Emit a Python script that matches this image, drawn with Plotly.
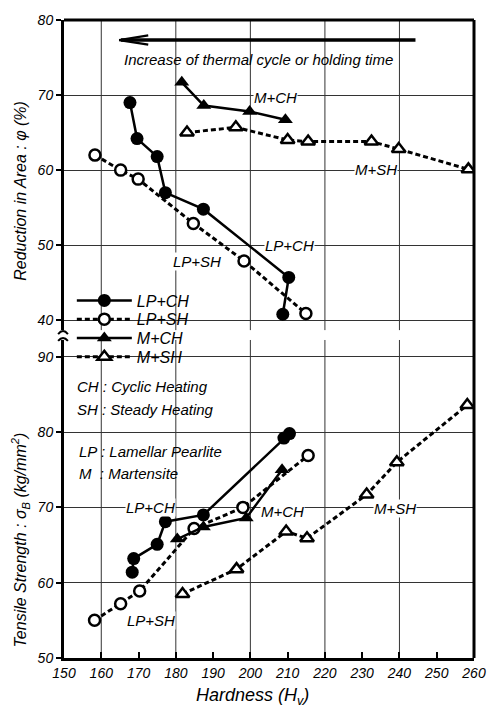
import plotly.graph_objects as go
from plotly.subplots import make_subplots

# ---------------- data ----------------
# Reduction in area (upper panel)
lpch_hv_ra = [167.7, 169.6, 175.0, 177.2, 187.4, 210.3, 208.7]
lpch_ra = [69.0, 64.2, 61.8, 57.0, 54.8, 45.7, 40.8]
lpsh_hv_ra = [158.3, 165.2, 169.9, 184.7, 198.3, 214.9]
lpsh_ra = [62.0, 60.0, 58.8, 52.9, 47.9, 40.9]
mch_hv_ra = [181.6, 187.5, 199.8, 209.4]
mch_ra = [71.7, 68.6, 67.8, 66.7]
msh_hv_ra = [183.0, 196.1, 210.0, 215.5, 232.5, 239.8, 258.5]
msh_ra = [65.0, 65.7, 64.0, 63.8, 63.8, 62.8, 60.1]

# Tensile strength (lower panel)
lpch_hv_ts = [168.3, 168.7, 175.0, 177.2, 187.4, 209.0, 210.5]
lpch_ts = [61.4, 63.2, 65.1, 68.1, 69.0, 79.2, 79.8]
lpsh_hv_ts = [158.2, 165.2, 170.3, 184.9, 198.0, 215.5]
lpsh_ts = [55.0, 57.2, 58.9, 67.2, 70.0, 76.9]
mch_hv_ts = [180.4, 187.4, 198.9, 208.5]
mch_ts = [65.8, 67.4, 68.6, 75.0]
msh_hv_ts = [181.8, 196.3, 209.6, 215.2, 231.2, 239.3, 258.2]
msh_ts = [58.5, 61.8, 66.8, 65.9, 71.7, 76.0, 83.6]

series_names = ["LP+CH", "LP+SH", "M+CH", "M+SH"]
x_ticks = [150, 160, 170, 180, 190, 200, 210, 220, 230, 240, 250, 260]
grid_x = [160, 180, 200, 220, 240]
ra_ticks = [40, 50, 60, 70, 80]
ts_ticks = [50, 60, 70, 80, 90]

# ---------------- layout geometry ----------------
W, H = 498, 713
ML, MR, MT, MB = 64, 15, 12, 55
PW = W - ML - MR
PH = H - MT - MB


def fx(px):
    return (px - ML) / PW


def fy(py):
    return (H - MB - py) / PH


FONT = "Liberation Sans, Arial, sans-serif"
BLACK = "black"

fig = make_subplots(rows=2, cols=1, shared_xaxes=True)

styles = {
    "LP+CH": dict(marker=dict(symbol="circle", size=13, color=BLACK),
                  line=dict(color=BLACK, width=2.5)),
    "LP+SH": dict(marker=dict(symbol="circle", size=11, color="white",
                              line=dict(color=BLACK, width=2.5)),
                  line=dict(color=BLACK, width=3, dash="5px,3px")),
    "M+CH": dict(marker=dict(symbol="triangle-up", size=13, color=BLACK),
                 line=dict(color=BLACK, width=2.5)),
    "M+SH": dict(marker=dict(symbol="triangle-up", size=12, color="white",
                             line=dict(color=BLACK, width=2.5)),
                 line=dict(color=BLACK, width=3, dash="5px,3px")),
}

top_data = [(lpch_hv_ra, lpch_ra), (lpsh_hv_ra, lpsh_ra),
            (mch_hv_ra, mch_ra), (msh_hv_ra, msh_ra)]
bot_data = [(lpch_hv_ts, lpch_ts), (lpsh_hv_ts, lpsh_ts),
            (mch_hv_ts, mch_ts), (msh_hv_ts, msh_ts)]
legend_ids = ["legend", "legend2", "legend3", "legend4"]

for i, name in enumerate(series_names):
    st = styles[name]
    xs, ys = top_data[i]
    fig.add_trace(go.Scatter(x=xs, y=ys, mode="lines+markers", name=name,
                             marker=st["marker"], line=st["line"],
                             showlegend=True, legend=legend_ids[i]),
                  row=1, col=1)
    xs, ys = bot_data[i]
    fig.add_trace(go.Scatter(x=xs, y=ys, mode="lines+markers", name=name,
                             marker=st["marker"], line=st["line"],
                             showlegend=False),
                  row=2, col=1)

top_bottom_px = 326
bot_top_px = 336
top_lo = 80 - (top_bottom_px - MT) / 7.6
bot_hi = 50 + ((H - MB) - bot_top_px) / 7.625

tickfont = dict(family=FONT, size=14, color=BLACK, style="italic")
GRID = "#333333"

fig.update_layout(
    width=W, height=H,
    margin=dict(l=ML, r=MR, t=MT, b=MB, pad=0),
    paper_bgcolor="white", plot_bgcolor="white",
    font=dict(family=FONT, color=BLACK),
    xaxis=dict(range=[150, 260], showticklabels=False, showline=False,
               ticks="", showgrid=False, zeroline=False),
    xaxis2=dict(range=[150, 260], tickvals=x_ticks, ticks="inside", ticklen=6,
                tickwidth=2, tickcolor=BLACK, showline=True, linewidth=3,
                linecolor=BLACK, showgrid=False, zeroline=False,
                tickfont=tickfont),
    yaxis=dict(domain=[fy(top_bottom_px), 1], range=[top_lo, 80],
               tickvals=ra_ticks, showgrid=True, gridcolor=GRID,
               gridwidth=1, showline=True, linewidth=3, linecolor=BLACK,
               ticks="outside", ticklen=5, tickwidth=2, tickcolor=BLACK,
               zeroline=False, tickfont=tickfont),
    yaxis2=dict(domain=[0, fy(bot_top_px)], range=[50, bot_hi],
                tickvals=ts_ticks, showgrid=True, gridcolor=GRID,
                gridwidth=1, showline=True, linewidth=3, linecolor=BLACK,
                ticks="outside", ticklen=5, tickwidth=2, tickcolor=BLACK,
                zeroline=False, tickfont=tickfont),
)

leg_rows = [296, 315, 334, 353]
for lid, row in zip(legend_ids, leg_rows):
    fig.update_layout({lid: dict(x=fx(72), y=fy(row), xanchor="left",
                                 yanchor="middle", bgcolor="rgba(0,0,0,0)",
                                 borderwidth=0, itemwidth=55,
                                 font=dict(family=FONT, size=16, color=BLACK,
                                           style="italic"))})

shapes = []
# frame: top and right borders
shapes.append(dict(type="line", xref="paper", yref="paper", x0=0, x1=1,
                   y0=1, y1=1, line=dict(color=BLACK, width=3)))
shapes.append(dict(type="line", xref="paper", yref="paper", x0=1, x1=1,
                   y0=0, y1=1, line=dict(color=BLACK, width=3)))
# vertical grid lines in both panels
for gx in grid_x:
    for yr in ["y domain", "y2 domain"]:
        shapes.append(dict(type="line", xref="x", yref=yr, x0=gx, x1=gx,
                           y0=0, y1=1, layer="below",
                           line=dict(color=GRID, width=1)))
# axis break marks
shapes.append(dict(type="path", xref="paper", yref="paper",
                   path=f"M {fx(58)},{fy(330)} Q {fx(63)},{fy(324)} {fx(68)},{fy(330)}",
                   line=dict(color=BLACK, width=2)))
shapes.append(dict(type="path", xref="paper", yref="paper",
                   path=f"M {fx(58)},{fy(337)} Q {fx(63)},{fy(331)} {fx(68)},{fy(337)}",
                   line=dict(color=BLACK, width=2)))
# arrow (shaft + barbs)
ax_tail, ax_head, ay = 244.3, 164.8, 77.33
shapes.append(dict(type="line", xref="x", yref="y", x0=ax_tail, x1=ax_head + 0.5,
                   y0=ay, y1=ay, line=dict(color=BLACK, width=3.5)))
shapes.append(dict(type="path", xref="x", yref="y",
                   path=f"M 172.6,77.95 L {ax_head},{ay} L 172.6,76.72",
                   line=dict(color=BLACK, width=2.2)))
fig.update_layout(shapes=shapes)

ann = []
lab_font = dict(family=FONT, size=15, color=BLACK, style="italic")
ann.append(dict(text="Increase of thermal cycle or holding time", xref="paper",
                yref="paper", x=fx(123), y=fy(52), xanchor="left",
                yanchor="middle", showarrow=False, font=lab_font))
for txt, px, py in [("CH : Cyclic Heating", 75, 383),
                    ("SH : Steady Heating", 75, 406),
                    ("LP : Lamellar Pearlite", 77, 449),
                    ("M\u00a0\u00a0: Martensite", 77, 471)]:
    ann.append(dict(text=txt, xref="paper", yref="paper", x=fx(px), y=fy(py),
                    xanchor="left", yanchor="middle", showarrow=False,
                    font=lab_font))

labels_top = [("M+CH", 206.8, 69.7), ("M+SH", 233.8, 60.1),
              ("LP+CH", 210.6, 50.0), ("LP+SH", 185.8, 47.8)]
labels_bot = [("LP+CH", 173.3, 69.95), ("LP+SH", 173.4, 55.0),
              ("M+CH", 208.7, 69.5), ("M+SH", 238.8, 69.9)]
for txt, x, y in labels_top:
    ann.append(dict(text=txt, xref="x", yref="y", x=x, y=y, showarrow=False,
                    xanchor="center", yanchor="middle",
                    font=lab_font, bgcolor="white", borderpad=0))
for txt, x, y in labels_bot:
    ann.append(dict(text=txt, xref="x", yref="y2", x=x, y=y, showarrow=False,
                    xanchor="center", yanchor="middle",
                    font=lab_font, bgcolor="white", borderpad=0))

title_font = dict(family=FONT, size=16, color=BLACK, style="italic")
ann.append(dict(text="Reduction in Area : \u03c6 (%)", xref="paper", yref="paper",
                x=fx(20), y=fy(185), textangle=-90, showarrow=False,
                xanchor="center", yanchor="middle", font=title_font))
ann.append(dict(text="Tensile Strength : \u03c3<sub>B</sub> (kg/mm<sup>2</sup>)",
                xref="paper", yref="paper", x=fx(20), y=fy(538),
                textangle=-90, showarrow=False, xanchor="center",
                yanchor="middle", font=title_font))
ann.append(dict(text="Hardness (H<sub>v</sub>)", xref="paper", yref="paper",
                x=fx(257), y=fy(697), showarrow=False, xanchor="center",
                yanchor="middle",
                font=dict(family=FONT, size=18, color=BLACK, style="italic")))
fig.update_layout(annotations=ann)

fig.write_html("out.html")
